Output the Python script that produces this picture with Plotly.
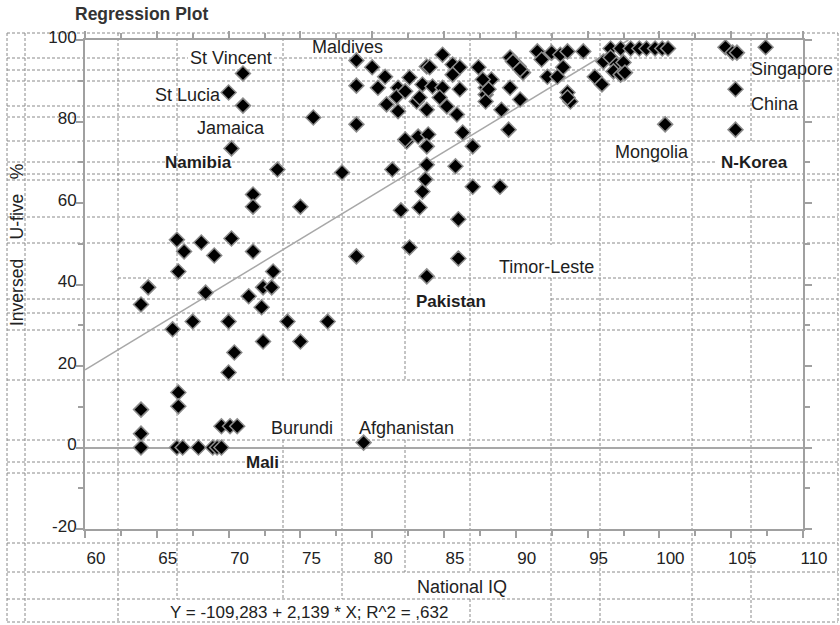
import plotly.graph_objects as go

# ---------------- data ----------------
national_iq = [
    63.9, 63.9, 63.9, 66.4, 66.8, 67.9, 68.9, 69.2, 69.5, 79.4,
    69.5, 70.1, 70.6, 66.5, 66.5, 70.0, 70.4, 72.4, 75.0, 66.1,
    67.5, 70.0, 74.1, 76.9, 72.3, 63.9, 71.4, 68.4, 64.4, 72.4,
    73.0, 66.5, 73.1, 66.9, 71.7, 69.0, 66.4, 68.1, 70.2, 71.7,
    71.7, 75.0, 73.4, 77.9, 81.4, 78.9, 82.0, 83.3, 82.6, 83.8,
    86.0, 86.0, 83.5, 83.7, 83.8, 85.8, 87.0, 88.9, 71.0, 70.0,
    71.0, 75.9, 78.9, 70.2, 78.9, 80.0, 80.9, 78.9, 80.4, 81.8,
    81.0, 81.7, 81.8, 83.1, 83.8, 84.9, 85.6, 86.1, 83.5, 84.2,
    84.9, 86.1, 83.3, 84.7, 83.8, 85.2, 85.9, 82.4, 83.2, 83.9,
    83.8, 86.3, 87.0, 82.6, 82.3, 84.0, 85.6, 82.3, 87.4, 88.3,
    87.9, 87.9, 87.9, 89.6, 89.0, 90.3, 89.5, 89.6, 90.2, 90.5,
    91.5, 91.8, 92.5, 93.1, 93.6, 94.7, 92.2, 92.9, 93.3, 93.6,
    93.8, 93.6, 95.5, 96.0, 96.1, 96.6, 97.3, 98.0, 98.6, 99.1,
    99.7, 100.2, 100.6, 96.6, 97.0, 97.5, 96.8, 97.3, 97.6, 104.6,
    105.1, 105.4, 107.4, 105.3, 105.3, 100.4, 88.1, 87.7, 89.8, 90.3,
]
inversed_u5 = [
    0.0, 3.4, 9.3, 0.0, 0.0, 0.0, 0.0, 0.0, 0.0, 1.2,
    5.2, 5.2, 5.2, 13.5, 10.1, 18.4, 23.3, 26.0, 26.0, 29.0,
    30.9, 30.9, 30.9, 30.9, 34.4, 35.1, 37.1, 38.0, 39.3, 39.3,
    39.3, 43.2, 43.2, 48.1, 48.1, 47.1, 51.0, 50.3, 51.3, 62.1,
    59.1, 59.1, 68.2, 67.5, 68.2, 46.9, 58.2, 58.9, 49.1, 42.0,
    46.4, 56.0, 62.8, 65.8, 69.4, 69.0, 64.0, 64.0, 91.8, 87.1,
    83.9, 81.0, 79.3, 73.4, 95.0, 93.3, 91.0, 88.8, 88.3, 88.3,
    84.2, 86.1, 82.5, 84.9, 93.5, 96.4, 94.0, 93.3, 89.1, 88.6,
    88.3, 87.9, 85.9, 85.9, 82.9, 83.7, 81.7, 75.1, 76.3, 76.8,
    73.9, 77.3, 73.9, 90.8, 87.4, 93.3, 91.5, 75.6, 93.3, 90.3,
    88.3, 86.6, 84.9, 88.3, 82.9, 85.4, 78.0, 95.7, 93.5, 92.0,
    97.2, 95.2, 96.9, 96.4, 97.2, 97.2, 91.0, 91.0, 93.3, 87.1,
    84.9, 85.9, 91.0, 89.1, 94.7, 97.9, 97.9, 97.9, 97.9, 97.9,
    97.9, 97.9, 97.9, 95.7, 94.0, 94.5, 92.3, 91.5, 92.0, 98.2,
    96.9, 96.9, 98.2, 87.9, 78.0, 79.3, 87.9, 90.3, 94.7, 92.8,
]

intercept = -109.283
slope = 2.139
r_squared = 0.632

country_labels = ["St Vincent", "St Lucia", "Jamaica", "Namibia", "Maldives",
                  "Singapore", "China", "Mongolia", "N-Korea", "Timor-Leste",
                  "Pakistan", "Burundi", "Afghanistan", "Mali"]
bold_labels = ["Namibia", "N-Korea", "Pakistan", "Mali"]

x_range = [60, 110]
y_range = [-20, 100]
y_tick_values = [-20, 0, 20, 40, 60, 80, 100]
y_tick_labels = ["-20", "0", "20", "40", "60", "80", "100"]

# ---------------- figure ----------------
W, H = 840, 625
ML, MR, MT, MB = 85, 37, 40, 96
PW, PH = W - ML - MR, H - MT - MB


def px(xp):
    return (xp - ML) / PW


def py(yp):
    return (H - MB - yp) / PH


FONT = "Liberation Sans, Arial, sans-serif"
AX = "#a0a0a0"

fig = go.Figure()

# regression line (from axis start to the top of the y range)
x_end = (y_range[1] - intercept) / slope
fit_x = [x_range[0], x_end]
fit_y = [intercept + slope * v for v in fit_x]
fig.add_trace(go.Scatter(x=fit_x, y=fit_y, mode="lines",
                         line=dict(color="#a8a8a8", width=1.5),
                         hoverinfo="skip"))

fig.add_trace(go.Scatter(
    x=national_iq, y=inversed_u5, mode="markers", cliponaxis=False,
    marker=dict(symbol="diamond", size=11.5, color="black",
                line=dict(color="#8c8c8c", width=1.5)),
))

# dashed document-table lines (layout decoration)
h_lines = [
    (33, [(7, 838)]), (58, [(7, 188), (274, 838)]), (70, [(7, 751)]),
    (81, [(7, 838)]), (106, [(7, 751)]), (117, [(7, 838)]),
    (141, [(7, 838)]), (162, [(7, 165), (232, 715)]), (174, [(7, 838)]),
    (180, [(7, 838)]), (217, [(7, 838)]), (243, [(7, 838)]),
    (278, [(118, 838)]), (299, [(7, 412), (551, 838)]), (313, [(7, 838)]),
    (330, [(7, 838)]), (380, [(7, 838)]), (440, [(7, 838)]),
    (462, [(7, 245), (280, 838)]), (473, [(7, 838)]), (543, [(7, 838)]),
    (572, [(7, 838)]), (599, [(7, 838)]), (622, [(7, 838)]),
]
v_lines = [
    (7, [(33, 622)]), (25, [(33, 622)]), (118, [(33, 622)]),
    (177, [(33, 599)]), (283, [(33, 380), (440, 599)]),
    (342, [(58, 599)]), (405, [(106, 380), (440, 572)]),
    (470, [(33, 572), (599, 622)]), (551, [(33, 245), (278, 622)]),
    (600, [(33, 622)]), (692, [(33, 622)]),
    (751, [(33, 141), (180, 622)]), (838, [(33, 622)]),
]
dash_line = dict(color="#8a8a8a", width=1, dash="3px,2px")
shapes = []
for yv, segs in h_lines:
    for a, b in segs:
        shapes.append(dict(type="line", xref="paper", yref="paper",
                           x0=px(a), x1=px(b), y0=py(yv), y1=py(yv),
                           line=dash_line, layer="below"))
for xv, segs in v_lines:
    for a, b in segs:
        shapes.append(dict(type="line", xref="paper", yref="paper",
                           x0=px(xv), x1=px(xv), y0=py(a), y1=py(b),
                           line=dash_line, layer="below"))

# label placements (layout)
label_pos = {
    "St Vincent": (70.17, 95.5), "St Lucia": (67.17, 86.6),
    "Jamaica": (70.17, 78.3), "Namibia": (67.87, 69.9),
    "Maldives": (78.25, 98.2), "Singapore": (109.23, 92.8),
    "China": (108.05, 84.2), "Mongolia": (99.48, 72.6),
    "N-Korea": (106.59, 69.9), "Timor-Leste": (92.17, 44.4),
    "Pakistan": (85.49, 35.8), "Burundi": (75.11, 4.7),
    "Afghanistan": (82.42, 4.7), "Mali": (72.33, -3.7),
}
annotations = []
for name in country_labels:
    lx, ly = label_pos[name]
    bold = name in bold_labels
    annotations.append(dict(
        x=lx, y=ly, xref="x", yref="y", xanchor="center", yanchor="middle",
        text=f"<b>{name}</b>" if bold else name,
        showarrow=False, font=dict(family=FONT, size=17 if bold else 18, color="#1e1e1e")))

nb = "\u00a0"
eq_text = "Y = -109,283 + 2,139 * X; R^2 = ,632"
annotations += [
    dict(x=px(73), y=py(14), xref="paper", yref="paper", xanchor="left", yanchor="middle",
         text="<b>Regression Plot</b>", showarrow=False,
         font=dict(family=FONT, size=17.5, color="#333")),
    dict(x=px(17), y=py(245), xref="paper", yref="paper", textangle=-90,
         xanchor="center", yanchor="middle",
         text=f"Inversed{nb*4}U-five{nb*3}%", showarrow=False,
         font=dict(family=FONT, size=17.5, color="#222")),
    dict(x=px(462), y=py(587), xref="paper", yref="paper",
         xanchor="center", yanchor="middle",
         text="National IQ", showarrow=False,
         font=dict(family=FONT, size=18, color="#222")),
    dict(x=px(309), y=py(612), xref="paper", yref="paper",
         xanchor="center", yanchor="middle",
         text=eq_text, showarrow=False, font=dict(family=FONT, size=17, color="#222")),
]

axis_common = dict(
    showline=True, linecolor=AX, linewidth=2, mirror="ticks",
    ticks="outside", ticklen=7, tickwidth=1.5, tickcolor=AX,
    showgrid=False, tickfont=dict(family=FONT, size=17, color="#222"),
)

fig.update_layout(
    width=W, height=H,
    margin=dict(l=ML, r=MR, t=MT, b=MB),
    paper_bgcolor="white", plot_bgcolor="rgba(0,0,0,0)",
    showlegend=False,
    font=dict(family=FONT, size=17, color="#222"),
    shapes=shapes, annotations=annotations,
    xaxis=dict(range=x_range, tick0=60, dtick=5, zeroline=False,
               minor=dict(dtick=2.5, ticks="outside", ticklen=5, tickcolor=AX, showgrid=False),
               ticklabelshift=11, ticklabelstandoff=6, **axis_common),
    yaxis=dict(range=y_range, tickmode="array", tickvals=y_tick_values, ticktext=y_tick_labels,
               zeroline=True, zerolinecolor="#a8a8a8", zerolinewidth=1.5,
               minor=dict(dtick=10, ticks="outside", ticklen=5, tickcolor=AX, showgrid=False),
               ticklabelshift=-3, ticklabelstandoff=-4, **axis_common),
)

fig.write_html("out.html", config={"displayModeBar": False},
               post_script="document.body.style.margin='0px';document.body.style.overflow='hidden';")
